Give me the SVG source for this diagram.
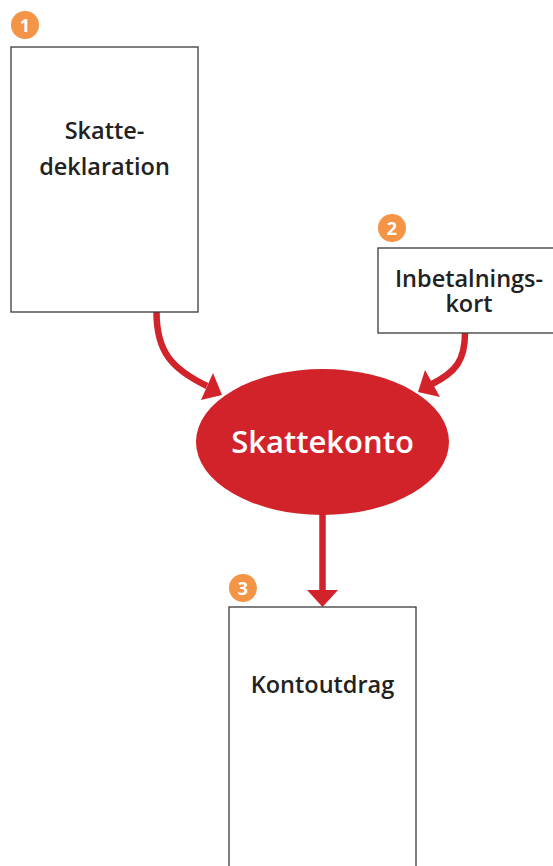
<svg xmlns="http://www.w3.org/2000/svg" width="553" height="866" viewBox="0 0 553 866">
<style>
.box{fill:#fff;stroke:#3a3a3a;stroke-width:1.3}
.lbl{font-family:"Open Sans","Liberation Sans",sans-serif;font-weight:600;font-size:23.5px;fill:#222;text-anchor:middle}
.badge{fill:#F39447}
.num{font-family:"Open Sans","Liberation Sans",sans-serif;font-weight:700;font-size:18px;fill:#fff;text-anchor:middle}
.conn{fill:none;stroke:#D2232A;stroke-width:6.5}
.head{fill:#D2232A}
</style>
<rect width="553" height="866" fill="#fff"/>
<g id="connectors">
<path class="conn" d="M156.5,312 C156.5,352 172,369 207,386"/>
<polygon class="head" points="222,395 213,373 201,400"/>
<path class="conn" d="M465,333 C465,360 456,372 432,384"/>
<polygon class="head" points="418,392 425,370 440,397"/>
<path class="conn" d="M322.5,512 L322.5,591"/>
<polygon class="head" points="322.5,607 307,590 338,590"/>
</g>
<g id="skattedeklaration">
<rect class="box" x="11" y="47" width="187" height="265"/>
<text class="lbl"><tspan x="104.5" y="139">Skatte-</tspan><tspan x="104.5" y="175">deklaration</tspan></text>
<circle class="badge" cx="25" cy="25" r="14"/>
<text class="num" x="25" y="31.5">1</text>
</g>
<g id="inbetalningskort">
<rect class="box" x="378" y="248" width="182" height="85"/>
<text class="lbl"><tspan x="469" y="287">Inbetalnings-</tspan><tspan x="469" y="312">kort</tspan></text>
<circle class="badge" cx="392" cy="228" r="14"/>
<text class="num" x="392" y="234.5">2</text>
</g>
<g id="skattekonto">
<ellipse cx="322.5" cy="442" rx="126.5" ry="73" fill="#D2232A"/>
<text x="322.5" y="453" font-size="31" font-family="'Open Sans','Liberation Sans',sans-serif" font-weight="600" fill="#fff" text-anchor="middle">Skattekonto</text>
</g>
<g id="kontoutdrag">
<rect class="box" x="229" y="607" width="187" height="270"/>
<text class="lbl" x="322.5" y="693">Kontoutdrag</text>
<circle class="badge" cx="243" cy="588" r="14"/>
<text class="num" x="243" y="594.5">3</text>
</g>
</svg>
